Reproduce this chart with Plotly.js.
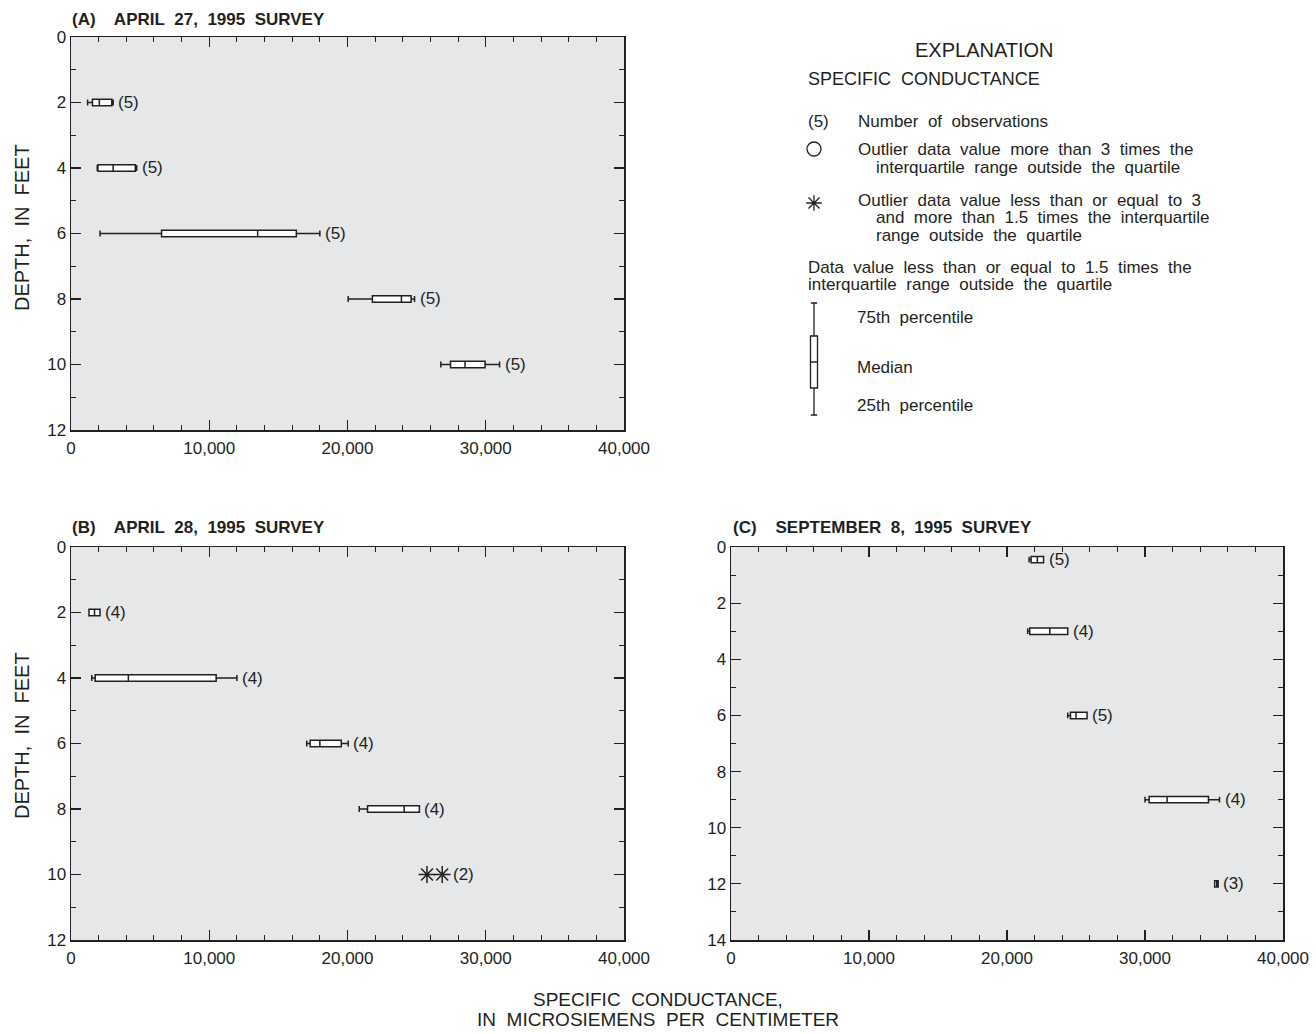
<!DOCTYPE html>
<html>
<head>
<meta charset="utf-8">
<script src="https://cdn.plot.ly/plotly-3.0.1.min.js"></script>
<style>
  html, body { margin: 0; padding: 0; background: #ffffff; }
  #chart { width: 1316px; height: 1034px; }
</style>
</head>
<body>
<div id="chart"></div>
<script>
// ---------------- DATA ----------------
// Panel A: April 27, 1995 survey
const depthsA   = [2, 4, 6, 8, 10];
const minA      = [1200, 1900, 2100, 20050, 26750];
const q1A       = [1550, 1950, 6550, 21800, 27450];
const medA      = [2050, 3050, 13500, 23900, 28500];
const q3A       = [2950, 4650, 16300, 24600, 29950];
const maxA      = [3050, 4750, 18000, 24850, 31000];
const countA    = [5, 5, 5, 5, 5];

// Panel B: April 28, 1995 survey
const depthsB   = [2, 4, 6, 8];
const minB      = [1300, 1500, 17050, 20850];
const q1B       = [1300, 1750, 17300, 21450];
const medB      = [1700, 4150, 18000, 24100];
const q3B       = [2100, 10500, 19550, 25200];
const maxB      = [2100, 12000, 20050, 25200];
const countB    = [4, 4, 4, 4];
const outDepthB = [10, 10];
const outValB   = [25750, 26850];
const outCountB = [2];

// Panel C: September 8, 1995 survey
const depthsC   = [0.45, 3, 6, 9, 12];
const minC      = [21600, 21500, 24400, 30000, 35050];
const q1C       = [21750, 21650, 24600, 30300, 35050];
const medC      = [22200, 23100, 25000, 31600, 35200];
const q3C       = [22650, 24400, 25800, 34600, 35300];
const maxC      = [22650, 24400, 25800, 35400, 35300];
const countC    = [5, 4, 5, 4, 3];

// Tick labels / axis ranges
const xTickVals = [0, 10000, 20000, 30000, 40000];
const xTickText = ['0', '10,000', '20,000', '30,000', '40,000'];
const depthMaxAB = 12;
const depthMaxC  = 14;

// Explanation box (schematic values)
const legendBox = {lower: 303, q1: 336, median: 362, q3: 388, upper: 415};

// ---------------- LAYOUT HELPERS ----------------
const W = 1316, H = 1034;
const FONT = 'Liberation Sans, Arial, Helvetica, sans-serif';
const INK = '#231f20';
const BG = '#e6e7e8';
const px = x => x / W;
const py = y => 1 - y / H;
const sp = s => s.replace(/ /g, '\u00a0 ');

function ann(text, x, y, o) {
  o = o || {};
  return {
    xref: 'paper', yref: 'paper', x: px(x), y: py(y), text: text,
    showarrow: false, xanchor: o.xanchor || 'left', yanchor: 'middle',
    textangle: o.angle || 0,
    font: {family: FONT, size: o.size || 17, color: INK, weight: o.bold ? 'bold' : 'normal'}
  };
}

function xAxisDef(domain, anchor) {
  return {
    domain: domain, anchor: anchor, range: [0, 40000],
    tickvals: xTickVals, ticktext: xTickText,
    ticks: 'inside', ticklen: 10, tickwidth: 1.2, tickcolor: INK,
    mirror: 'ticks', showline: true, linecolor: INK, linewidth: 1.5,
    showgrid: false, zeroline: false, fixedrange: true,
    ticklabelstandoff: 2,
    tickfont: {family: FONT, size: 17, color: INK},
    minor: {dtick: 2000, tick0: 0, ticks: 'inside', ticklen: 5, tickwidth: 1, tickcolor: INK, showgrid: false}
  };
}
function yAxisDef(domain, anchor, maxDepth) {
  return {
    domain: domain, anchor: anchor, range: [maxDepth, 0],
    dtick: 2, tick0: 0,
    ticks: 'inside', ticklen: 10, tickwidth: 1.2, tickcolor: INK,
    mirror: 'ticks', showline: true, linecolor: INK, linewidth: 1.5,
    showgrid: false, zeroline: false, fixedrange: true,
    tickfont: {family: FONT, size: 17, color: INK},
    minor: {dtick: 1, tick0: 0, ticks: 'inside', ticklen: 5, tickwidth: 1, tickcolor: INK, showgrid: false}
  };
}

function boxTrace(depths, mn, q1, md, q3, mx, xa, ya, w) {
  return {
    type: 'box', orientation: 'h', xaxis: xa, yaxis: ya,
    y: depths, lowerfence: mn, q1: q1, median: md, q3: q3, upperfence: mx,
    width: w, whiskerwidth: 0.9, boxpoints: false,
    fillcolor: '#ffffff', line: {color: INK, width: 1.5},
    hoverinfo: 'skip', showlegend: false
  };
}

// ---------------- TRACES ----------------
const traces = [
  boxTrace(depthsA, minA, q1A, medA, q3A, maxA, 'x', 'y', 0.2),
  boxTrace(depthsB, minB, q1B, medB, q3B, maxB, 'x2', 'y2', 0.2),
  boxTrace(depthsC, minC, q1C, medC, q3C, maxC, 'x3', 'y3', 0.23),
  {
    type: 'scatter', mode: 'markers', xaxis: 'x2', yaxis: 'y2',
    x: outValB, y: outDepthB,
    marker: {symbol: 'asterisk-open', size: 14, color: INK, line: {color: INK, width: 1.5}},
    hoverinfo: 'skip', showlegend: false
  },
  // Explanation glyphs (pixel-unit helper axis)
  {
    type: 'scatter', mode: 'markers', xaxis: 'x4', yaxis: 'y4',
    x: [814], y: [149],
    marker: {symbol: 'circle-open', size: 14, color: INK, line: {color: INK, width: 1.3}},
    hoverinfo: 'skip', showlegend: false
  },
  {
    type: 'scatter', mode: 'markers', xaxis: 'x4', yaxis: 'y4',
    x: [814], y: [203],
    marker: {symbol: 'asterisk-open', size: 13, color: INK, line: {color: INK, width: 1.3}},
    hoverinfo: 'skip', showlegend: false
  },
  {
    type: 'box', orientation: 'v', xaxis: 'x4', yaxis: 'y4',
    x: [814], lowerfence: [legendBox.lower], q1: [legendBox.q1], median: [legendBox.median],
    q3: [legendBox.q3], upperfence: [legendBox.upper],
    width: 7, whiskerwidth: 0.9, boxpoints: false,
    fillcolor: '#ffffff', line: {color: INK, width: 1.3},
    hoverinfo: 'skip', showlegend: false
  }
];

// ---------------- ANNOTATIONS ----------------
const annotations = [];
function countLabels(xs, ys, counts, xa, ya, shift) {
  for (let i = 0; i < counts.length; i++) {
    annotations.push({
      xref: xa, yref: ya, x: xs[i], y: ys[i], text: '(' + counts[i] + ')',
      showarrow: false, xanchor: 'left', yanchor: 'middle', xshift: shift,
      font: {family: FONT, size: 17, color: INK}
    });
  }
}
countLabels(maxA, depthsA, countA, 'x', 'y', 3);
countLabels(maxB, depthsB, countB, 'x2', 'y2', 3);
countLabels([outValB[outValB.length - 1]], [outDepthB[0]], outCountB, 'x2', 'y2', 9);
countLabels(maxC, depthsC, countC, 'x3', 'y3', 3);

// Panel titles
annotations.push(ann('(A)\u00a0 \u00a0 APRIL\u00a0 27,\u00a0 1995\u00a0 SURVEY', 70, 19, {bold: true, size: 17}));
annotations.push(ann('(B)\u00a0 \u00a0 APRIL\u00a0 28,\u00a0 1995\u00a0 SURVEY', 70, 527, {bold: true, size: 17}));
annotations.push(ann('(C)\u00a0 \u00a0 SEPTEMBER\u00a0 8,\u00a0 1995\u00a0 SURVEY', 731, 527, {bold: true, size: 17}));

// Y axis titles
annotations.push(ann(sp('DEPTH, IN FEET'), 22, 228, {angle: -90, xanchor: 'center', size: 20}));
annotations.push(ann(sp('DEPTH, IN FEET'), 22, 736, {angle: -90, xanchor: 'center', size: 20}));

// Shared x axis title
annotations.push(ann(sp('SPECIFIC CONDUCTANCE,'), 658, 999, {xanchor: 'center', size: 19}));
annotations.push(ann(sp('IN MICROSIEMENS PER CENTIMETER'), 658, 1019, {xanchor: 'center', size: 19}));

// Explanation text
annotations.push(ann('EXPLANATION', 984, 50, {xanchor: 'center', size: 20}));
annotations.push(ann(sp('SPECIFIC CONDUCTANCE'), 806, 79, {size: 18}));
annotations.push(ann('(5)', 806, 121));
annotations.push(ann(sp('Number of observations'), 856, 121));
annotations.push(ann(sp('Outlier data value more than 3 times the'), 856, 149));
annotations.push(ann(sp('interquartile range outside the quartile'), 874, 167));
annotations.push(ann(sp('Outlier data value less than or equal to 3'), 856, 200));
annotations.push(ann(sp('and more than 1.5 times the interquartile'), 874, 218));
annotations.push(ann(sp('range outside the quartile'), 874, 235));
annotations.push(ann(sp('Data value less than or equal to 1.5 times the'), 806, 267));
annotations.push(ann(sp('interquartile range outside the quartile'), 806, 284));
annotations.push(ann(sp('75th percentile'), 855, 317));
annotations.push(ann('Median', 855, 367));
annotations.push(ann(sp('25th percentile'), 855, 405));

// Gray plot backgrounds
const shapes = [['x', 'y'], ['x2', 'y2'], ['x3', 'y3']].map(([xa, ya]) => ({
  type: 'rect', xref: xa + ' domain', yref: ya + ' domain', x0: 0, x1: 1, y0: 0, y1: 1,
  fillcolor: BG, line: {width: 0}, layer: 'below'
}));

const domA_x = [px(71), px(624)];
const domC_x = [px(731), px(1283)];
const domTop_y = [py(430), py(37)];
const domBot_y = [py(940), py(547)];

const layout = {
  width: W, height: H,
  margin: {l: 0, r: 0, t: 0, b: 0},
  paper_bgcolor: '#ffffff', plot_bgcolor: 'rgba(0,0,0,0)',
  showlegend: false,
  font: {family: FONT, color: INK},
  xaxis: xAxisDef(domA_x, 'y'),
  yaxis: yAxisDef(domTop_y, 'x', depthMaxAB),
  xaxis2: xAxisDef(domA_x, 'y2'),
  yaxis2: yAxisDef(domBot_y, 'x2', depthMaxAB),
  xaxis3: xAxisDef(domC_x, 'y3'),
  yaxis3: yAxisDef(domBot_y, 'x3', depthMaxC),
  xaxis4: {domain: [px(780), px(850)], anchor: 'y4', range: [780, 850], visible: false, fixedrange: true},
  yaxis4: {domain: [py(430), py(130)], anchor: 'x4', range: [430, 130], visible: false, fixedrange: true},
  shapes: shapes,
  annotations: annotations
};

Plotly.newPlot('chart', traces, layout, {displayModeBar: false, staticPlot: true});
</script>
</body>
</html>
